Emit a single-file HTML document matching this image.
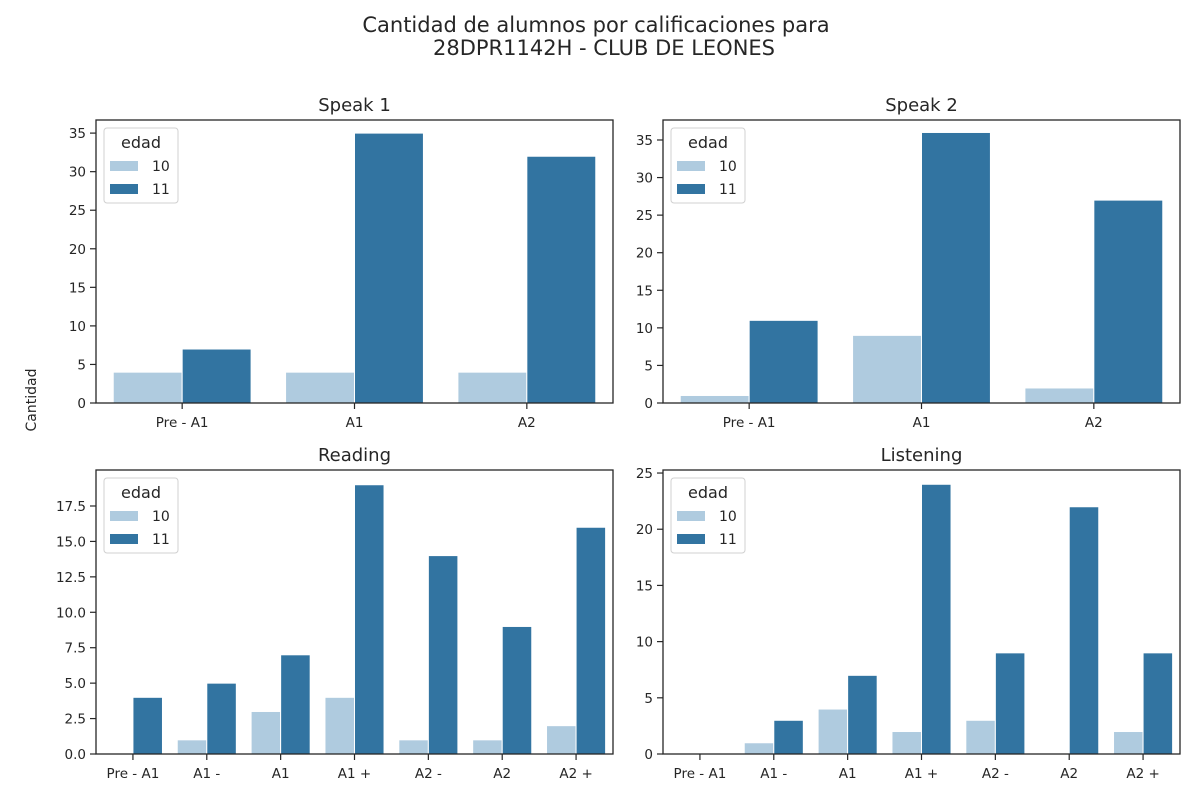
<!DOCTYPE html>
<html><head><meta charset="utf-8"><style>
body{margin:0;background:#fff}
svg{display:block;font-family:"DejaVu Sans","Liberation Sans",sans-serif}
</style></head><body>
<svg id="c" width="1200" height="800" viewBox="0 0 1200 800">
<rect width="1200" height="800" fill="#fff"/>
<text x="596" y="32" font-size="21" text-anchor="middle" fill="#262626">Cantidad de alumnos por calificaciones para</text>
<text x="604" y="55" font-size="21" text-anchor="middle" fill="#262626">28DPR1142H - CLUB DE LEONES</text>
<text transform="translate(36,400) rotate(-90)" font-size="14" text-anchor="middle" fill="#262626">Cantidad</text>
</svg>
<script>
const speakCats=["Pre - A1","A1","A2"];
const fullCats=["Pre - A1","A1 -","A1","A1 +","A2 -","A2","A2 +"];
const s1Age10=[4,4,4], s1Age11=[7,35,32];
const s2Age10=[1,9,2], s2Age11=[11,36,27];
const rdAge10=[0,1,3,4,1,1,2], rdAge11=[4,5,7,19,14,9,16];
const lsAge10=[0,1,4,2,3,0,2], lsAge11=[0,3,7,24,9,22,9];
const s1Ticks=[0,5,10,15,20,25,30,35], s2Ticks=[0,5,10,15,20,25,30,35];
const rdTicks=["0.0","2.5","5.0","7.5","10.0","12.5","15.0","17.5"], lsTicks=[0,5,10,15,20,25];
const svg=document.getElementById('c');
const NS='http://www.w3.org/2000/svg';
function mk(t,a,p){const e=document.createElementNS(NS,t);for(const k in a)e.setAttribute(k,a[k]);(p||svg).appendChild(e);return e;}
const panels=[
 {name:"speak-1",title:"Speak 1",x0:96,x1:613,y0:120,y1:403,ymax:36.7,cats:speakCats,a:s1Age10,b:s1Age11,ticks:s1Ticks},
 {name:"speak-2",title:"Speak 2",x0:663,x1:1180,y0:120,y1:403,ymax:37.66,cats:speakCats,a:s2Age10,b:s2Age11,ticks:s2Ticks},
 {name:"reading",title:"Reading",x0:96,x1:613,y0:470,y1:754,ymax:20.04,cats:fullCats,a:rdAge10,b:rdAge11,ticks:rdTicks},
 {name:"listening",title:"Listening",x0:663,x1:1180,y0:470,y1:754,ymax:25.27,cats:fullCats,a:lsAge10,b:lsAge11,ticks:lsTicks}];
panels.forEach(p=>{
 const g=mk('g',{});
 
 
 const ys=v=>p.y1-(v/p.ymax)*(p.y1-p.y0);
 const cw=(p.x1-p.x0)/p.cats.length;
 const xs=i=>p.x0+cw*(i+0.5);
 p.ticks.forEach(t=>{const y=ys(parseFloat(t));
  const l=mk('line',{x1:p.x0-6,x2:p.x0,y1:y,y2:y,stroke:'#262626','stroke-width':1.2},g);
  
  const tx=mk('text',{x:p.x0-10,y:y+5,'font-size':13.5,'text-anchor':'end',fill:'#262626'},g);tx.textContent=t;
  });
 p.cats.forEach((c,i)=>{const x=xs(i);
  mk('line',{x1:x,x2:x,y1:p.y1,y2:p.y1+6,stroke:'#262626','stroke-width':1.2},g);
  const tx=mk('text',{x:x,y:p.y1+24,'font-size':13.5,'text-anchor':'middle',fill:'#262626'},g);tx.textContent=c;
  
  [[p.a[i],'#afcbdf',-1,'age-10'],[p.b[i],'#3274a1',0,'age-11']].forEach(([v,col,off,nm])=>{
   const bw=cw*0.4;const bx=x+off*bw;const y=ys(v);
   const r=mk('rect',{x:bx,y:y,width:bw,height:p.y1-y,fill:col,stroke:'#fff','stroke-width':1},g);
   });
 });
 mk('rect',{x:p.x0,y:p.y0,width:p.x1-p.x0,height:p.y1-p.y0,fill:'none',stroke:'#262626','stroke-width':1.3},g);
 const t=mk('text',{x:(p.x0+p.x1)/2,y:p.y0-9,'font-size':18,'text-anchor':'middle',fill:'#262626'},g);t.textContent=p.title;
 
 const lg=mk('g',{},g);
 
 const lx=p.x0+8,ly=p.y0+8;
 mk('rect',{x:lx,y:ly,width:74,height:75,rx:3,fill:'#fff',stroke:'#d0d0d0','stroke-width':1},lg);
 const lt=mk('text',{x:lx+37,y:ly+20,'font-size':16,'text-anchor':'middle',fill:'#262626'},lg);lt.textContent='edad';
 [['10','#afcbdf',38],['11','#3274a1',61]].forEach(([n,col,dy])=>{
  mk('rect',{x:lx+6,y:ly+dy-5,width:28,height:10,fill:col},lg);
  const e=mk('text',{x:lx+48,y:ly+dy+5,'font-size':14,fill:'#262626'},lg);e.textContent=n;
  });
});
</script>
</body></html>
